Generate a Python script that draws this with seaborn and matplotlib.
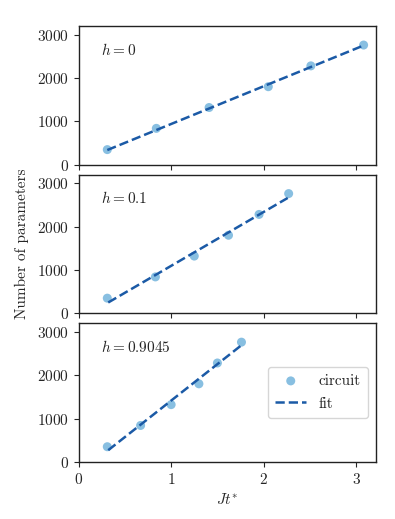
import numpy as np
import pandas as pd
import matplotlib
matplotlib.use("Agg")
import matplotlib.pyplot as plt
import seaborn as sns

# nombre de paramètres du circuit (identique pour les trois panneaux)
params = [350, 840, 1320, 1800, 2280, 2760]

# temps Jt* pour chaque h
h_labels = ["$h = 0$", "$h = 0.1$", "$h = 0.9045$"]
jt_h0 = [0.31, 0.84, 1.41, 2.05, 2.51, 3.08]
jt_h01 = [0.31, 0.83, 1.25, 1.62, 1.95, 2.27]
jt_h09 = [0.31, 0.67, 1.00, 1.30, 1.50, 1.76]

# droites d'ajustement (extrémités)
fit_x = [[0.31, 3.08], [0.32, 2.26], [0.32, 1.76]]
fit_y = [[340, 2750], [250, 2660], [270, 2690]]

sns.set_style("ticks")
plt.rcParams["font.family"] = ["cmr10", "DejaVu Serif"]
plt.rcParams["mathtext.fontset"] = "cm"
plt.rcParams["axes.formatter.use_mathtext"] = True
plt.rcParams["font.size"] = 11
plt.rcParams["axes.edgecolor"] = "#222222"
plt.rcParams["axes.linewidth"] = 1.0

point_color = "#88bfe1"
line_color = "#1b5aa6"

fig, axes = plt.subplots(3, 1, figsize=(3.95, 5.19), dpi=100, sharex=True)
fig.subplots_adjust(left=0.199, right=0.951, top=0.95, bottom=0.11, hspace=0.07)

for i, (ax, jt) in enumerate(zip(axes, [jt_h0, jt_h01, jt_h09])):
    df = pd.DataFrame({"Jt": jt, "params": params})
    sns.scatterplot(data=df, x="Jt", y="params", ax=ax, color=point_color,
                    s=42, edgecolor="none", label="circuit", zorder=2)
    sns.lineplot(x=fit_x[i], y=fit_y[i], ax=ax, color=line_color,
                 linestyle="--", linewidth=1.8, label="fit", zorder=3)
    ax.text(0.075, 0.83, h_labels[i], transform=ax.transAxes, va="center", fontsize=11)
    ax.set_xlim(0, 3.21)
    ax.set_ylim(0, 3200)
    ax.set_yticks([0, 1000, 2000, 3000])
    ax.set_xticks([0, 1, 2, 3])
    ax.set_xlabel("")
    ax.set_ylabel("")
    ax.tick_params(labelsize=11)
    for sp in ax.spines.values():
        sp.set_visible(True)
    if i < 2:
        ax.get_legend().remove()

axes[2].legend(loc="center right", fontsize=11, frameon=True, labelspacing=0.6,
               borderpad=0.5)
axes[2].set_xlabel("$Jt^{*}$", fontsize=11)
axes[1].set_ylabel("Number of parameters", fontsize=11, labelpad=6)

plt.savefig("out.png", dpi=100)
